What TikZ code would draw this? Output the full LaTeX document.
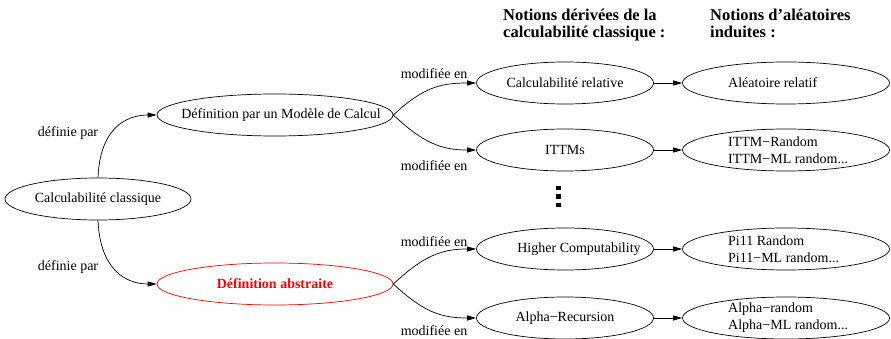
\documentclass[tikz,border=0pt]{standalone}
\usepackage{fontspec}
\setmainfont{Liberation Serif}
\usetikzlibrary{shapes.geometric,arrows.meta}
\newcommand{\zw}[1]{\makebox[0pt]{#1}}
\begin{document}
\begin{tikzpicture}[x=1pt,y=-1pt,
  txt/.style={font=\fontsize{14}{17}\selectfont},
  ell/.style={ellipse,draw,line width=0.7pt,inner sep=0pt,minimum height=42pt,txt},
  lcol/.style={ell,minimum width=236pt},
  mcol/.style={ell,minimum width=177pt},
  rcol/.style={ell,minimum width=207pt},
  rtext/.style={txt,align=left,anchor=west,inner sep=0pt},
  lbl/.style={txt,inner sep=0pt},
  hdr/.style={font=\fontsize{16.5}{17}\selectfont\bfseries,align=left,anchor=north west,inner sep=0pt},
  edge/.style={line width=0.7pt,-{Triangle[length=9pt,width=5pt]}}]
\useasboundingbox (0,0) rectangle (891,339);

% headers
\node[hdr] (h1) at (503,8.5) {Notions dérivées de la\\calculabilité classique :};
\node[hdr] (h2) at (710,8.5) {Notions d’aléatoires\\induites :};

% left part
\node[ell,minimum width=186pt] (cc) at (98,199) {\zw{Calculabilité classique}};
\node[lcol] (dm) at (275,115) {\zw{\hspace{12pt}Définition par un Modèle de Calcul}};
\node[lcol,red,font=\fontsize{14}{17}\selectfont\bfseries] (da) at (275,284) {\zw{Définition abstraite}};

% middle column
\node[mcol] (cr) at (565,83) {\zw{Calculabilité relative}};
\node[mcol] (it) at (565,150) {\zw{ITTMs}};
\node[mcol] (hc) at (565,249) {\zw{\hspace{28pt}Higher Computability}};
\node[mcol] (ar) at (565,318) {\zw{Alpha−Recursion}};

% right column
\node[rcol] (al) at (786,83) {};
\node[rcol] (itr) at (786,150) {};
\node[rcol] (pir) at (786,249) {};
\node[rcol] (alr) at (786,318) {};
\node[rtext] (alt) at (728,83) {Aléatoire relatif};
\node[rtext] (itrt) at (728,150) {ITTM−Random\\ITTM−ML random...};
\node[rtext] (pirt) at (728,249) {Pi11 Random\\Pi11−ML random...};
\node[rtext] (alrt) at (728,318) {Alpha−random\\Alpha−ML random...};

% vertical dots
\foreach \yy in {188,196.5,205}
  \fill (556,\yy-2.3) rectangle (560.6,\yy+2.3);

% edges
\draw[edge] (cc.north) .. controls +(2,-50) and +(-30,0) .. (dm.west);
\draw[edge] (cc.south) .. controls +(2,50) and +(-30,0) .. (da.west);
\draw[edge] (dm.east) .. controls +(30,-28) and +(-35,0) .. (cr.west);
\draw[edge] (dm.east) .. controls +(30,28) and +(-35,0) .. (it.west);
\draw[edge] (da.east) .. controls +(30,-28) and +(-35,0) .. (hc.west);
\draw[edge] (da.east) .. controls +(30,28) and +(-35,0) .. (ar.west);
\draw[edge] (cr.east) -- (al.west);
\draw[edge] (it.east) -- (itr.west);
\draw[edge] (hc.east) -- (pir.west);
\draw[edge] (ar.east) -- (alr.west);

% labels
\node[lbl] (l1) at (68,133) {définie par};
\node[lbl] (l2) at (68,267) {définie par};
\node[lbl] (l3) at (434,74) {modifiée en};
\node[lbl] (l4) at (434,166) {modifiée en};
\node[lbl] (l5) at (434,242) {modifiée en};
\node[lbl] (l6) at (434,331) {modifiée en};
\end{tikzpicture}
\end{document}
